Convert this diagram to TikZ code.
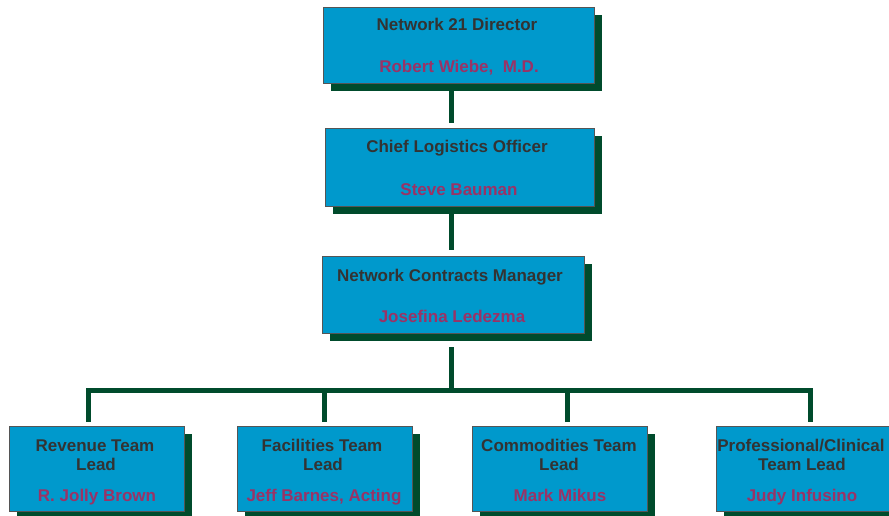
\documentclass[tikz,border=0pt]{standalone}
\usepackage{fontspec}
\setmainfont{Liberation Sans}
\usetikzlibrary{calc}
\definecolor{boxfill}{HTML}{0099CC}
\definecolor{shade}{HTML}{004B2C}
\definecolor{titlec}{HTML}{333333}
\definecolor{namec}{HTML}{993366}
\definecolor{edgec}{HTML}{555555}
\begin{document}
\begin{tikzpicture}[x=1pt,y=-1pt,
 orgbox/.style={draw=edgec, line width=1pt, fill=boxfill, inner sep=0pt, anchor=north west},
 shadowbox/.style={fill=shade},
 titlelbl/.style={font=\bfseries\fontsize{17}{20}\selectfont, text=titlec, anchor=base, inner sep=0pt},
 namelbl/.style={font=\bfseries\fontsize{17}{20}\selectfont, text=namec, anchor=base, inner sep=0pt},
 conn/.style={draw=shade, line width=5pt, line join=miter}]
\useasboundingbox (0,0) rectangle (889,516);
% shadows
\fill[shadowbox] (331,15) rectangle (602,91);
\fill[shadowbox] (333,136) rectangle (602,214);
\fill[shadowbox] (330,264) rectangle (592,341);
\fill[shadowbox] (17,434) rectangle (192,519);
\fill[shadowbox] (245,434) rectangle (420,519);
\fill[shadowbox] (480,434) rectangle (655,519);
\fill[shadowbox] (724,434) rectangle (899,519);
% boxes
\node[orgbox, minimum width=271pt, minimum height=76pt] (n1) at (323,7) {};
\node[orgbox, minimum width=269pt, minimum height=78pt] (n2) at (325,128) {};
\node[orgbox, minimum width=262pt, minimum height=77pt] (n3) at (322,256) {};
\node[orgbox, minimum width=175pt, minimum height=85pt] (a) at (9,426) {};
\node[orgbox, minimum width=175pt, minimum height=85pt] (b) at (237,426) {};
\node[orgbox, minimum width=175pt, minimum height=85pt] (c) at (472,426) {};
\node[orgbox, minimum width=175pt, minimum height=85pt] (d) at (716,426) {};
% texts
\node[titlelbl] (t1) at (457,31) {Network 21 Director};
\node[namelbl] (m1) at (459,73) {Robert Wiebe,\ \ M.D.};
\node[titlelbl] (t2) at (457,153) {Chief Logistics Officer};
\node[namelbl] (m2) at (459,195) {Steve Bauman};
\node[titlelbl] (t3) at (450,281) {Network Contracts Manager};
\node[namelbl] (m3) at (452,322) {Josefina Ledezma};
\node[titlelbl] (ta1) at (95,451) {Revenue Team};
\node[titlelbl] (ta2) at (96,470) {Lead};
\node[namelbl] (ma) at (97,501) {R. Jolly Brown};
\node[titlelbl] (tb1) at (322,451) {Facilities Team};
\node[titlelbl] (tb2) at (323,470) {Lead};
\node[namelbl] (mb) at (324,501) {Jeff Barnes, Acting};
\node[titlelbl] (tc1) at (559,451) {Commodities Team};
\node[titlelbl] (tc2) at (559,470) {Lead};
\node[namelbl] (mc) at (560,501) {Mark Mikus};
\node[titlelbl] (td1) at (801,451) {Professional/Clinical};
\node[titlelbl] (td2) at (802,470) {Team Lead};
\node[namelbl] (md) at (802,501) {Judy Infusino};
% connectors
\coordinate (c1a) at (451,91);
\coordinate (c1b) at (451,123);
\coordinate (c2a) at (451,214);
\coordinate (c2b) at (451,250);
\coordinate (c3a) at (451,347);
\coordinate (bar) at (451,390.5);
\coordinate (ba) at (88.5,390.5);
\coordinate (bd) at (810,390.5);
\coordinate (da) at (88.5,422);
\coordinate (db) at (324,422);
\coordinate (dc) at (567,422);
\coordinate (dd) at (810,422);
\draw[conn] (c1a) -- (c1b);
\draw[conn] (c2a) -- (c2b);
\draw[conn] (c3a) -- (bar);
\draw[conn] (da) -- (ba) -- (bd) -- (dd);
\draw[conn] (db) -- (324,390.5);
\draw[conn] (dc) -- (567,390.5);
\end{tikzpicture}
\end{document}
